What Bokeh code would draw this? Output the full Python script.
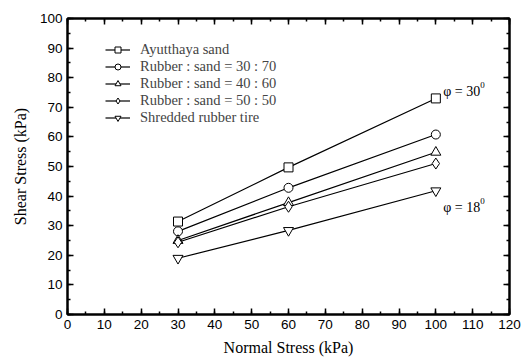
from bokeh.plotting import figure
from bokeh.models import (Range1d, LinearAxis, SingleIntervalTicker, Legend, LegendItem, Label)
from bokeh.embed import file_html
from bokeh.resources import INLINE

normal_stress = [30, 60, 100]
series_names = ["Ayutthaya sand", "Rubber : sand = 30 : 70", "Rubber : sand = 40 : 60",
                "Rubber : sand = 50 : 50", "Shredded rubber tire"]
ayutthaya = [31.4, 49.7, 73.0]
rs_30_70 = [28.1, 42.8, 60.8]
rs_40_60 = [25.0, 37.8, 54.8]
rs_50_50 = [24.4, 36.4, 51.0]
shredded = [19.0, 28.4, 41.8]
markers = ["square", "circle", "triangle", "diamond", "inverted_triangle"]
all_series = [ayutthaya, rs_30_70, rs_40_60, rs_50_50, shredded]

SERIF = "'Times New Roman', 'Liberation Serif', serif"
SANS = "Arial, 'Liberation Sans', sans-serif"
MARKER_SIZE = {"square": 9, "circle": 9, "triangle": 10, "diamond": 11, "inverted_triangle": 10}

p = figure(width=523, height=359, output_backend="svg", toolbar_location=None,
           x_range=Range1d(0, 120), y_range=Range1d(0, 100),
           min_border_left=67, min_border_right=14, min_border_top=18, min_border_bottom=45,
           x_axis_label="Normal Stress (kPa)", y_axis_label="Shear Stress (kPa)")
p.grid.visible = False
p.outline_line_color = "black"
p.outline_line_width = 2
p.background_fill_color = "white"
p.border_fill_color = "white"

def style_axis(ax, labels=True):
    ax.ticker = SingleIntervalTicker(interval=10, num_minor_ticks=2)
    ax.axis_line_width = 2
    ax.axis_line_color = "black"
    ax.major_tick_in = 6
    ax.major_tick_out = 0
    ax.minor_tick_in = 3
    ax.minor_tick_out = 0
    ax.major_tick_line_width = 1.5
    ax.minor_tick_line_width = 1.5
    ax.major_label_text_font = SANS
    ax.major_label_text_font_size = "13.5px"
    ax.major_label_text_color = "black" if labels else None
    ax.axis_label_text_font = SERIF
    ax.axis_label_text_font_size = "16px"
    ax.axis_label_text_font_style = "normal"
    ax.axis_label_text_color = "black"

style_axis(p.xaxis[0])
style_axis(p.yaxis[0])
p.xaxis[0].major_label_standoff = 5
p.xaxis[0].axis_label_standoff = 7
p.yaxis[0].major_label_standoff = 5
p.yaxis[0].axis_label_standoff = 8

top = LinearAxis()
style_axis(top, labels=False)
p.add_layout(top, "above")
right = LinearAxis()
style_axis(right, labels=False)
p.add_layout(right, "right")
top.major_label_text_font_size = "0px"
right.major_label_text_font_size = "0px"
top.major_label_standoff = 0
right.major_label_standoff = 0

items = []
for name, ys, m in zip(series_names, all_series, markers):
    ln = p.line(normal_stress, ys, line_color="black", line_width=1.2)
    sc = p.scatter(normal_stress, ys, marker=m, size=MARKER_SIZE[m], fill_color="white",
                   line_color="black", line_width=1)
    items.append(LegendItem(label=name, renderers=[ln, sc]))

legend = Legend(items=items, location=(38, 188), padding=0, margin=0, spacing=0,
                glyph_width=25, glyph_height=15, label_height=17, label_standoff=10,
                label_text_font=SERIF, label_text_font_size="14.5px",
                border_line_color=None, background_fill_alpha=0)
p.add_layout(legend, "center")

for txt, x, y in [("\u03c6 = 30", 102.0, 75.4), ("\u03c6 = 18", 102.0, 36.2)]:
    lab = Label(x=x, y=y, text=txt, text_font=SERIF, text_font_size="14px",
                text_color="black", text_baseline="alphabetic")
    p.add_layout(lab)
    sup = Label(x=x, y=y, x_offset=37, y_offset=6, text="0", text_font=SERIF,
                text_font_size="9px", text_color="black", text_baseline="alphabetic")
    p.add_layout(sup)

open("out.html", "w").write(file_html(p, INLINE))
